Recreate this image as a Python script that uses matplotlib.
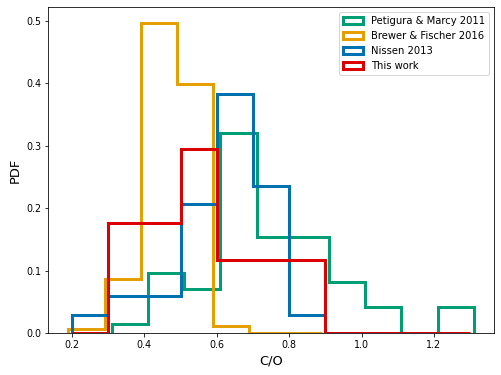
import numpy as np
import matplotlib
matplotlib.use('Agg')
import matplotlib.pyplot as plt

# --- Data (normalised histograms, heights) ---
pm_edges = [0.31, 0.41, 0.51, 0.61, 0.71, 0.81, 0.91, 1.01, 1.11, 1.21, 1.31]
pm_heights = [0.014, 0.096, 0.070, 0.320, 0.153, 0.153, 0.082, 0.041, 0.0, 0.041]

bf_edges = [0.19, 0.29, 0.39, 0.49, 0.59, 0.69, 0.79, 0.89]
bf_heights = [0.006, 0.086, 0.497, 0.398, 0.012, 0.0, 0.0]

nissen_edges = [0.2, 0.3, 0.4, 0.5, 0.6, 0.7, 0.8, 0.9]
nissen_counts = [1, 2, 2, 7, 13, 8, 1]

this_edges = [0.2, 0.3, 0.4, 0.5, 0.6, 0.7, 0.8, 0.9, 1.0, 1.1, 1.2, 1.3]
this_counts = [0, 3, 3, 5, 2, 2, 2, 0, 0, 0, 0]

labels = ['Petigura & Marcy 2011', 'Brewer & Fischer 2016', 'Nissen 2013', 'This work']
colors = ['#009E73', '#E69F00', '#0072B2', '#DC0000']
# ---------------------

nissen_heights = np.array(nissen_counts) / np.sum(nissen_counts)
this_heights = np.array(this_counts) / np.sum(this_counts)

series = [
    (pm_edges, pm_heights),
    (bf_edges, bf_heights),
    (nissen_edges, nissen_heights),
    (this_edges, this_heights),
]

fig = plt.figure(figsize=(501 / 72, 375 / 72), dpi=72)
ax = fig.add_axes([0.096, 0.112, 0.89, 0.869])

for (edges, heights), lab, col in zip(series, labels, colors):
    edges = np.array(edges)
    centers = (edges[:-1] + edges[1:]) / 2
    ax.hist(centers, bins=edges, weights=heights, histtype='step',
            lw=3, color=col, label=lab)

ax.set_xticks([0.2, 0.4, 0.6, 0.8, 1.0, 1.2])
ax.set_yticks([0.0, 0.1, 0.2, 0.3, 0.4, 0.5])
ax.tick_params(labelsize=9.5)
ax.set_xlabel('C/O', fontsize=13)
ax.set_ylabel('PDF', fontsize=13)
ax.legend(loc='upper right', fontsize=10)

fig.savefig('out.png', dpi=72)
